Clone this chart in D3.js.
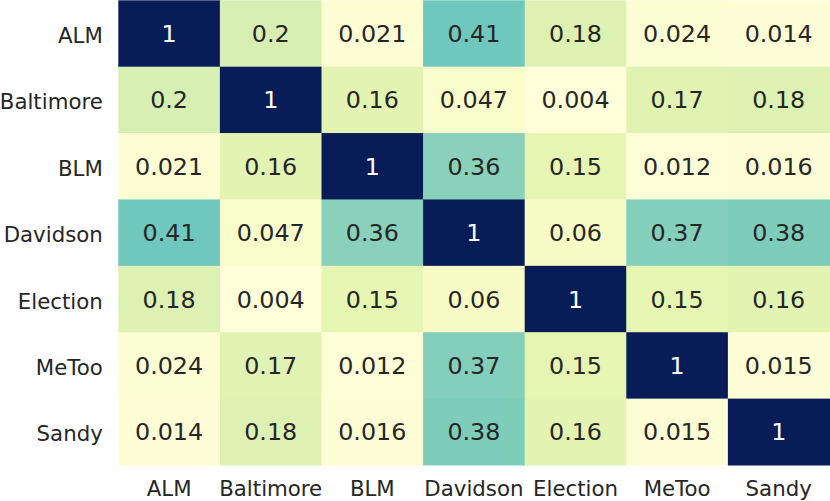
<!DOCTYPE html>
<html>
<head>
<meta charset="utf-8">
<script src="https://cdn.jsdelivr.net/npm/d3@7"></script>
<style>
  body { margin: 0; background: #fff; }
  text { font-family: 'DejaVu Sans', sans-serif; }
</style>
</head>
<body>
<script>
let w = 830;
let h = 501;

let labels = ['ALM', 'Baltimore', 'BLM', 'Davidson', 'Election', 'MeToo', 'Sandy'];

// one row per label, values as printed in each cell
let rowALM       = [1, 0.2, 0.021, 0.41, 0.18, 0.024, 0.014];
let rowBaltimore = [0.2, 1, 0.16, 0.047, 0.004, 0.17, 0.18];
let rowBLM       = [0.021, 0.16, 1, 0.36, 0.15, 0.012, 0.016];
let rowDavidson  = [0.41, 0.047, 0.36, 1, 0.06, 0.37, 0.38];
let rowElection  = [0.18, 0.004, 0.15, 0.06, 1, 0.15, 0.16];
let rowMeToo     = [0.024, 0.17, 0.012, 0.37, 0.15, 1, 0.015];
let rowSandy     = [0.014, 0.18, 0.016, 0.38, 0.16, 0.015, 1];

let matrix = [rowALM, rowBaltimore, rowBLM, rowDavidson, rowElection, rowMeToo, rowSandy];

let cells = [];
matrix.forEach((row, i) => {
  row.forEach((v, j) => {
    cells.push({ row: labels[i], col: labels[j], value: v });
  });
});

let padLeft = 118.3, padRight = 829.5, padTop = 0.3, padBottom = 465;

let xScale = d3.scaleBand().domain(labels).range([padLeft, padRight]);
let yScale = d3.scaleBand().domain(labels).range([padTop, padBottom]);

// YlGnBu, linear segments like matplotlib
let ylgnbu = ['#ffffd9', '#edf8b1', '#c7e9b4', '#7fcdbb', '#41b6c4',
              '#1d91c0', '#225ea8', '#253494', '#081d58'];
let vmin = d3.min(cells, (d) => d.value);
let vmax = d3.max(cells, (d) => d.value);
let color = d3.scaleLinear()
  .domain(d3.range(9).map((k) => vmin + (vmax - vmin) * k / 8))
  .range(ylgnbu)
  .interpolate(d3.interpolateRgb);

let svg = d3.select('body')
  .append('svg')
  .attr('width', w)
  .attr('height', h);

svg.selectAll('rect')
  .data(cells)
  .enter()
  .append('rect')
  .attr('x', (d) => xScale(d.col))
  .attr('y', (d) => yScale(d.row))
  .attr('width', xScale.bandwidth() + 0.5)
  .attr('height', yScale.bandwidth() + 0.5)
  .attr('fill', (d) => color(d.value));

let lum = (c) => {
  let rgb = d3.rgb(c);
  let f = (u) => { u /= 255; return u <= 0.03928 ? u / 12.92 : Math.pow((u + 0.055) / 1.055, 2.4); };
  return 0.2126 * f(rgb.r) + 0.7152 * f(rgb.g) + 0.0722 * f(rgb.b);
};

svg.selectAll('text.annot')
  .data(cells)
  .enter()
  .append('text')
  .attr('class', 'annot')
  .text((d) => String(d.value))
  .attr('x', (d) => xScale(d.col) + xScale.bandwidth() / 2)
  .attr('y', (d) => yScale(d.row) + yScale.bandwidth() / 2 + 8.6)
  .attr('text-anchor', 'middle')
  .attr('font-size', '23.8px')
  .attr('fill', (d) => lum(color(d.value)) > 0.408 ? '#262626' : '#ffffff');

let yAxis = svg.append('g')
  .attr('transform', `translate(${padLeft},0)`)
  .call(d3.axisLeft(yScale).tickSize(0).tickPadding(15.5));
yAxis.select('.domain').remove();
yAxis.selectAll('text')
  .attr('dy', '9.6px')
  .attr('font-size', '21.3px')
  .attr('font-family', 'DejaVu Sans, sans-serif')
  .attr('fill', '#262626');

let xAxis = svg.append('g')
  .attr('transform', `translate(0,${padBottom})`)
  .call(d3.axisBottom(xScale).tickSize(0));
xAxis.select('.domain').remove();
xAxis.selectAll('text')
  .attr('y', 31)
  .attr('dy', null)
  .attr('font-size', '21.3px')
  .attr('font-family', 'DejaVu Sans, sans-serif')
  .attr('fill', '#262626');
</script>
</body>
</html>
